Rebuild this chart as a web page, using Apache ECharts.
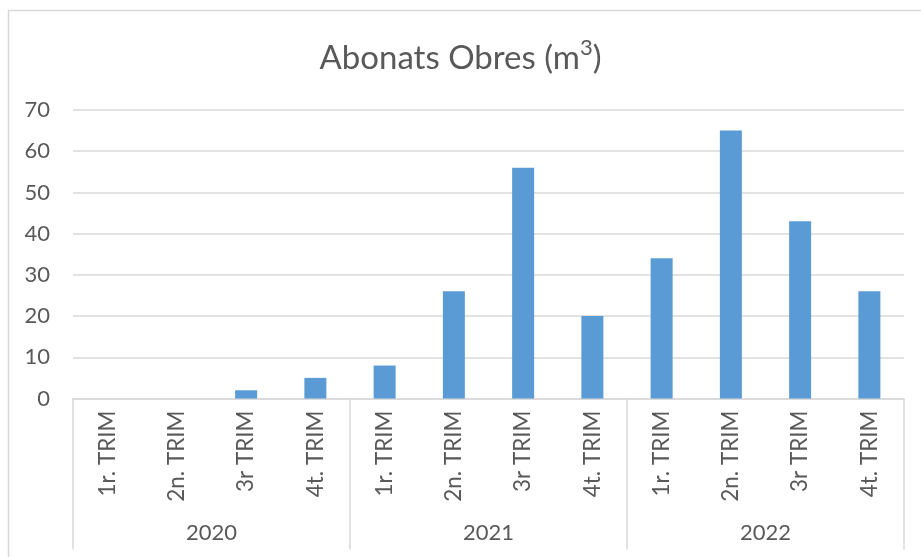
<!DOCTYPE html>
<html><head><meta charset="utf-8">
<script src="https://cdn.jsdelivr.net/npm/echarts@6/dist/echarts.min.js"></script>
<style>html,body{margin:0;padding:0;background:#fff}#c{width:921px;height:557px}</style>
</head><body><div id="c"></div>
<script>
const quarters = ['1r. TRIM','2n. TRIM','3r TRIM','4t. TRIM','1r. TRIM','2n. TRIM','3r TRIM','4t. TRIM','1r. TRIM','2n. TRIM','3r TRIM','4t. TRIM'];
const years = ['2020','2021','2022'];
const values = [0, 0, 2, 5, 8, 26, 56, 20, 34, 65, 43, 26];
const yTicks = {min: 0, max: 70, interval: 10};

const font = 'Lato';
const txt = '#595959';
const grid = '#D9D9D9';
const chart = echarts.init(document.getElementById('c'));
chart.setOption({
  animation: false,
  title: {
    text: '{m|Abonats Obres (m}{s|3}{m|)}', left: 'center', top: 32,
    textStyle: {
      fontFamily: font, fontSize: 33, fontWeight: 'normal', color: txt,
      rich: {
        m: {fontFamily: font, fontSize: 33, color: txt, lineHeight: 42},
        s: {fontFamily: font, fontSize: 22, color: txt, lineHeight: 30, verticalAlign: 'top'}
      }
    }
  },
  graphic: [{type: 'rect', shape: {x: 8.5, y: 10.5, width: 1000, height: 1000},
    style: {fill: 'none', stroke: grid, lineWidth: 1.5}, silent: true}],
  grid: {left: 73, right: 17, top: 110, bottom: 158.5, containLabel: false},
  xAxis: [{
    type: 'category', data: quarters, position: 'bottom',
    axisLine: {show: true, lineStyle: {color: grid, width: 1.5}},
    axisTick: {show: false},
    axisLabel: {rotate: 90, margin: 12, fontFamily: font, fontSize: 22.5, color: txt, interval: 0}
  }, {
    type: 'category', data: years, position: 'bottom',
    axisLine: {show: false},
    axisTick: {show: true, length: 151, interval: 0, lineStyle: {color: grid, width: 1.5}},
    axisLabel: {margin: 123, fontFamily: font, fontSize: 22, color: txt, interval: 0}
  }],
  yAxis: {
    type: 'value', min: yTicks.min, max: yTicks.max, interval: yTicks.interval,
    axisLine: {show: false}, axisTick: {show: false},
    axisLabel: {margin: 23, fontFamily: font, fontSize: 22, color: txt},
    splitLine: {lineStyle: {color: grid, width: 1.5}}
  },
  series: [{
    type: 'bar', data: values, barWidth: 22, xAxisIndex: 0,
    itemStyle: {color: '#5B9BD5', borderWidth: 0}
  }]
});
</script></body></html>
